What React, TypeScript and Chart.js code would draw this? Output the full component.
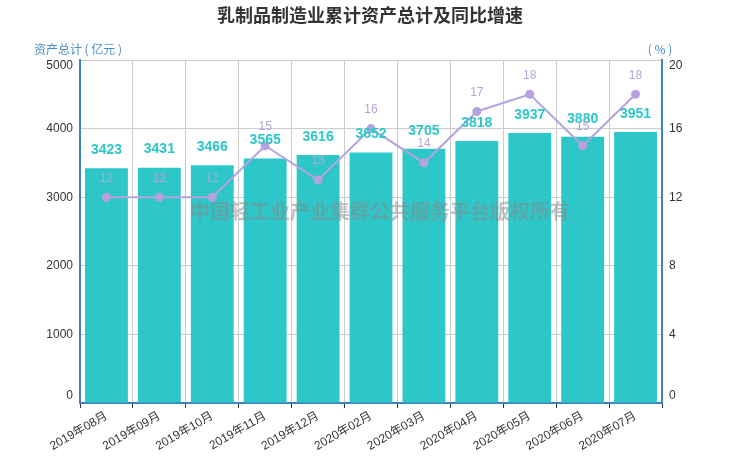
import React, { useEffect, useRef } from "react";
import { Chart, registerables } from "chart.js";

Chart.register(...registerables);

const categories = [
  "2019年08月", "2019年09月", "2019年10月", "2019年11月", "2019年12月", "2020年02月",
  "2020年03月", "2020年04月", "2020年05月", "2020年06月", "2020年07月",
];
const assetTotals = [3423, 3431, 3466, 3565, 3616, 3652, 3705, 3818, 3937, 3880, 3951];
const growthRates = [12, 12, 12, 15, 13, 16, 14, 17, 18, 15, 18];
const leftTicks = [0, 1000, 2000, 3000, 4000, 5000];
const rightTicks = [0, 4, 8, 12, 16, 20];

const TITLE = "乳制品制造业累计资产总计及同比增速";
const LEFT_TITLE = "资产总计 ( 亿元 )";
const RIGHT_TITLE = "( % )";
const WATERMARK = "中国轻工业产业集群公共服务平台版权所有";

const FONT = "'Liberation Sans', Arial, 'Noto Sans CJK SC', sans-serif";
const TEAL = "#2ec7c9";
const PURPLE = "#b6a2de";
const AXIS_BLUE = "#3d82c1";

const overlayPlugin = {
  id: "overlay",
  afterDraw(chart: any) {
    const ctx = chart.ctx;
    const area = chart.chartArea;
    ctx.save();
    // title
    ctx.fillStyle = "#333";
    ctx.font = `bold 18px 'Noto Sans CJK SC', sans-serif`;
    ctx.textAlign = "center";
    ctx.textBaseline = "middle";
    ctx.fillText(TITLE, 370, 15);
    // axis titles
    ctx.fillStyle = "#4a8ec8";
    ctx.font = `12px 'Noto Sans CJK SC', sans-serif`;
    ctx.fillText(LEFT_TITLE, 78, 49);
    ctx.fillText(RIGHT_TITLE, 660, 49);

    // y tick labels (clamped inside the plot)
    const y = chart.scales.y;
    const y1 = chart.scales.y1;
    ctx.fillStyle = "#333";
    ctx.font = `12px ${FONT}`;
    const clamp = (p: number) => Math.min(Math.max(p, area.top + 6), area.bottom - 7);
    ctx.textAlign = "right";
    leftTicks.forEach((v) => ctx.fillText(String(v), area.left - 7, clamp(y.getPixelForValue(v))));
    ctx.textAlign = "left";
    rightTicks.forEach((v) => ctx.fillText(String(v), area.right + 7, clamp(y1.getPixelForValue(v))));

    // watermark
    ctx.fillStyle = "rgba(135,135,135,0.5)";
    ctx.font = `bold 20px 'Noto Sans CJK SC', sans-serif`;
    ctx.textAlign = "center";
    ctx.fillText(WATERMARK, 380, 211);

    // bar labels
    const barMeta = chart.getDatasetMeta(1);
    ctx.fillStyle = TEAL;
    ctx.font = `bold 14px ${FONT}`;
    barMeta.data.forEach((el: any, i: number) => {
      ctx.fillText(String(assetTotals[i]), el.x, el.y - 18);
    });
    // line labels
    const lineMeta = chart.getDatasetMeta(0);
    ctx.fillStyle = PURPLE;
    ctx.font = `12px ${FONT}`;
    lineMeta.data.forEach((el: any, i: number) => {
      ctx.fillText(String(growthRates[i]), el.x, el.y - 19);
    });
    ctx.restore();
  },
};

export default function App() {
  const ref = useRef<HTMLCanvasElement | null>(null);
  useEffect(() => {
    if (!ref.current) return;
    const chart = new Chart(ref.current, {
      type: "bar",
      data: {
        labels: categories,
        datasets: [
          {
            type: "line",
            label: "同比增速",
            data: growthRates,
            yAxisID: "y1",
            borderColor: PURPLE,
            backgroundColor: PURPLE,
            borderWidth: 2,
            pointRadius: 3.5,
            pointBackgroundColor: PURPLE,
            pointBorderColor: PURPLE,
            tension: 0,
            order: 0,
          } as any,
          {
            type: "bar",
            label: "资产总计",
            data: assetTotals,
            yAxisID: "y",
            backgroundColor: TEAL,
            categoryPercentage: 1,
            barPercentage: 0.81,
            order: 1,
          },
        ],
      },
      options: {
        responsive: false,
        animation: false,
        devicePixelRatio: 1,
        layout: { padding: { top: 60, left: 0, right: 0, bottom: 0 } },
        plugins: { legend: { display: false }, tooltip: { enabled: false }, title: { display: false } },
        scales: {
          x: {
            offset: true,
            grid: { color: "#cccccc", offset: true, tickLength: 5, tickColor: "#333", drawTicks: true },
            border: { color: AXIS_BLUE, width: 2 },
            ticks: {
              color: "#333",
              font: { size: 12, family: FONT },
              maxRotation: 30,
              minRotation: 30,
              padding: 1,
              autoSkip: false,
            },
            afterFit: (s: any) => { s.height = 59; },
          },
          y: {
            position: "left",
            min: 0,
            max: 5000,
            ticks: { stepSize: 1000, display: false },
            grid: { color: "#cccccc", drawTicks: false },
            border: { color: AXIS_BLUE, width: 2 },
            afterFit: (s: any) => { s.width = 80; },
          },
          y1: {
            position: "right",
            min: 0,
            max: 20,
            ticks: { stepSize: 4, display: false },
            grid: { drawOnChartArea: false, drawTicks: false },
            border: { color: AXIS_BLUE, width: 2 },
            afterFit: (s: any) => { s.width = 78; },
          },
        },
      },
      plugins: [overlayPlugin],
    });
    return () => chart.destroy();
  }, []);
  return (
    <div style={{ position: "absolute", left: 0, top: 0, width: 740, height: 462, background: "#fff" }}>
      <canvas ref={ref} width={740} height={462} style={{ width: 740, height: 462 }} />
    </div>
  );
}
